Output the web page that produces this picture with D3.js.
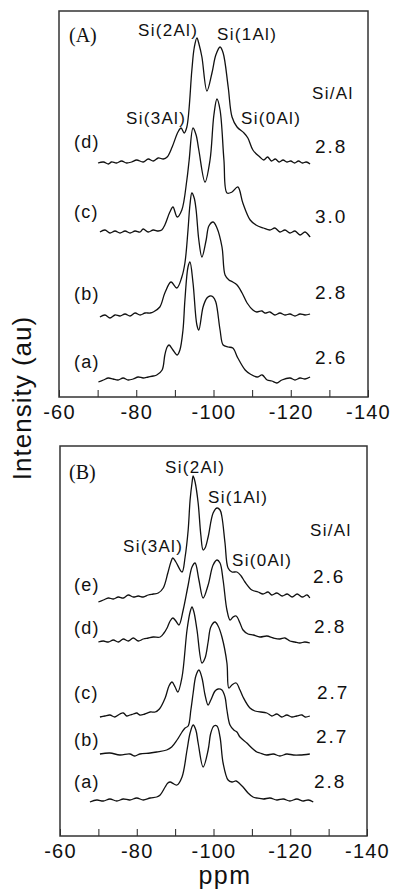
<!DOCTYPE html>
<html><head><meta charset="utf-8">
<script src="https://cdn.jsdelivr.net/npm/d3@7"></script>
<style>html,body{margin:0;padding:0;background:#fff;}svg{display:block;}</style>
</head><body>
<script>
// ---- data: [ppm, intensity (au)] for each 29Si MAS NMR spectrum ----
const specA_a = [[-70.2,-2],[-71.5,0],[-72.8,2],[-74.0,1],[-75.3,0],[-76.6,2],[-77.9,0],[-79.2,1],[-80.5,3],[-81.8,2],[-83.1,3],[-84.4,4],[-85.3,5],[-86.7,10],[-87.4,25],[-88.0,33],[-88.5,35],[-89.5,30],[-90.6,25],[-91.3,30],[-92.1,50],[-92.6,80],[-93.4,113],[-93.9,118],[-94.7,97],[-95.7,55],[-96.2,50],[-97.3,73],[-98.3,82],[-99.1,84],[-99.9,83],[-100.6,78],[-101.7,50],[-102.5,35],[-103.8,33],[-105.0,32],[-106.3,22],[-108.2,10],[-109.5,6],[-111.3,3],[-112.6,5],[-113.9,0],[-115.1,-1],[-116.4,-3],[-117.7,0],[-119.8,2],[-121.1,0],[-122.4,2],[-123.7,1],[-125.0,3]];
const specA_b = [[-70.6,-2],[-71.9,0],[-73.2,-3],[-74.5,0],[-75.8,-1],[-77.1,1],[-78.4,-1],[-79.7,2],[-81.0,0],[-82.3,2],[-83.6,2],[-84.4,3],[-86.1,8],[-87.4,22],[-89.0,33],[-90.5,27],[-91.8,38],[-92.6,52],[-93.4,85],[-93.9,110],[-94.4,122],[-95.0,117],[-95.5,105],[-96.2,75],[-97.0,58],[-98.1,75],[-98.8,89],[-99.9,93],[-100.9,87],[-102.2,68],[-103.0,40],[-104.0,35],[-105.0,33],[-106.1,30],[-107.4,22],[-108.7,12],[-110.2,5],[-111.2,3],[-112.5,4],[-113.3,2],[-114.6,3],[-115.9,0],[-117.2,2],[-118.5,0],[-119.8,1],[-121.1,-1],[-122.4,1],[-123.7,0],[-125.0,1]];
const specA_c = [[-70.6,1],[-71.9,3],[-73.2,0],[-74.5,2],[-75.8,0],[-77.1,2],[-78.4,0],[-79.7,2],[-81.0,1],[-81.8,4],[-83.1,1],[-84.4,3],[-85.7,2],[-86.6,3],[-87.4,8],[-88.7,21],[-89.5,26],[-90.6,16],[-91.8,23],[-93.1,53],[-93.7,73],[-94.7,105],[-95.5,98],[-96.2,83],[-97.8,51],[-99.1,73],[-100.1,118],[-100.9,134],[-101.7,123],[-102.7,73],[-103.5,40],[-104.8,41],[-106.3,46],[-107.6,30],[-109.5,13],[-111.0,8],[-112.9,5],[-114.6,3],[-115.9,5],[-117.2,1],[-118.5,3],[-119.8,0],[-121.1,2],[-122.4,-2],[-123.7,1],[-125.0,-4]];
const specA_d = [[-70.1,0],[-71.5,1],[-72.8,-1],[-73.6,1],[-74.9,0],[-76.2,2],[-77.5,0],[-78.8,1],[-80.1,3],[-81.8,1],[-83.1,4],[-84.4,2],[-85.7,5],[-87.0,4],[-88.0,6],[-89.3,16],[-90.8,31],[-91.6,35],[-92.4,30],[-93.1,36],[-94.4,93],[-95.0,115],[-95.7,125],[-96.3,118],[-97.0,106],[-98.3,72],[-99.6,90],[-100.6,108],[-101.7,116],[-102.5,110],[-103.8,76],[-104.8,46],[-106.1,36],[-107.9,30],[-108.9,25],[-110.2,13],[-112.0,6],[-113.0,3],[-114.0,6],[-115.0,2],[-116.0,4],[-117.0,1],[-118.0,3],[-119.0,1],[-120.0,2],[-121.0,0],[-122.0,2],[-123.0,0],[-124.0,1],[-125.0,-1]];

const specB_a = [[-67.8,-2],[-69.6,0],[-71.3,-1],[-73.0,1],[-74.8,-1],[-76.5,1],[-78.2,0],[-80.0,2],[-81.7,0],[-83.5,2],[-85.2,3],[-86.1,5],[-87.4,13],[-88.1,17],[-88.7,18],[-89.7,16],[-90.5,15],[-91.8,23],[-93.1,50],[-93.9,67],[-94.7,75],[-95.4,70],[-96.0,57],[-97.3,33],[-98.6,50],[-99.3,67],[-100.1,74],[-100.9,74],[-101.7,63],[-102.5,37],[-103.8,20],[-104.8,18],[-105.9,19],[-106.9,16],[-107.7,13],[-109.0,7],[-110.3,3],[-111.3,2],[-113.0,1],[-114.7,2],[-116.5,0],[-118.2,1],[-119.9,-1],[-121.7,1],[-123.4,-1],[-124.7,0],[-126.0,-2]];
const specB_b = [[-70.4,-1],[-73.0,0],[-75.6,-2],[-78.2,-1],[-79.5,-3],[-80.8,-1],[-83.5,0],[-85.2,1],[-87.8,3],[-89.1,6],[-90.5,13],[-91.8,21],[-92.6,25],[-93.4,27],[-94.1,43],[-94.7,60],[-95.4,77],[-96.2,83],[-97.0,75],[-97.8,58],[-98.6,48],[-99.3,53],[-100.4,62],[-101.2,64],[-102.2,63],[-103.0,56],[-103.5,43],[-104.3,28],[-105.3,23],[-106.1,21],[-106.9,16],[-108.7,10],[-110.0,5],[-111.3,1],[-112.1,0],[-113.8,-2],[-115.6,-1],[-117.3,-3],[-119.1,-1],[-120.8,-2],[-122.5,-2],[-125.1,-1]];
const specB_c = [[-70.4,-1],[-71.7,0],[-73.0,1],[-74.3,-1],[-75.6,2],[-76.5,3],[-77.4,0],[-78.2,1],[-79.1,2],[-80.0,3],[-80.8,1],[-82.1,2],[-83.5,4],[-84.8,4],[-85.9,7],[-87.4,18],[-88.4,30],[-89.2,34],[-90.0,29],[-90.7,24],[-91.8,39],[-93.1,86],[-93.9,104],[-94.4,109],[-94.9,104],[-95.7,86],[-97.0,53],[-97.8,58],[-98.6,74],[-99.3,89],[-100.4,94],[-101.2,90],[-102.2,79],[-103.5,53],[-104.0,28],[-104.8,31],[-105.9,33],[-106.9,26],[-107.7,19],[-109.5,8],[-110.8,5],[-113.9,3],[-115.2,0],[-116.5,2],[-117.8,-1],[-119.1,1],[-120.4,-1],[-121.7,0],[-123.0,1],[-123.9,-1],[-125.1,0]];
const specB_d = [[-70.0,-2],[-71.3,-1],[-72.6,-2],[-73.9,0],[-75.2,-2],[-76.5,1],[-77.8,-1],[-79.1,2],[-80.4,-1],[-81.7,1],[-83.0,2],[-84.3,3],[-86.1,3],[-87.1,7],[-87.9,12],[-88.7,19],[-89.4,22],[-90.2,19],[-91.0,15],[-92.1,30],[-93.4,55],[-94.4,73],[-95.2,77],[-96.2,60],[-97.3,42],[-98.6,55],[-99.9,75],[-100.9,80],[-101.7,77],[-102.5,60],[-103.5,30],[-104.3,20],[-105.1,23],[-105.9,24],[-106.9,17],[-107.7,10],[-109.0,6],[-110.4,5],[-112.1,3],[-113.9,4],[-115.6,2],[-117.3,1],[-118.6,2],[-119.9,-1],[-121.2,-2],[-122.5,-3],[-123.8,-2],[-125.1,-3]];
const specB_e = [[-70.0,-4],[-71.3,-2],[-72.6,0],[-73.9,-1],[-75.2,1],[-76.5,0],[-77.8,3],[-79.1,1],[-80.4,2],[-81.7,1],[-83.0,3],[-84.3,4],[-85.6,5],[-86.9,10],[-88.1,25],[-88.9,36],[-89.4,40],[-90.2,36],[-91.8,26],[-92.6,41],[-93.4,68],[-93.9,98],[-94.4,115],[-94.7,122],[-95.2,116],[-96.0,95],[-96.7,63],[-97.3,48],[-97.8,50],[-98.6,61],[-99.9,85],[-100.9,90],[-101.7,88],[-102.2,81],[-103.0,55],[-103.8,30],[-104.8,26],[-106.1,26],[-107.2,22],[-108.2,16],[-110.0,8],[-111.6,6],[-112.9,4],[-114.2,6],[-115.2,3],[-116.5,5],[-117.9,2],[-119.2,4],[-120.5,1],[-121.8,4],[-123.1,1],[-124.4,3],[-125.1,0]];

const seriesA = [specA_a, specA_b, specA_c, specA_d];
const seriesB = [specB_a, specB_b, specB_c, specB_d, specB_e];
const offsetsA = [17, 82, 164, 234];
const offsetsB = [36, 83, 120, 196, 238];
const namesA = ["(a)", "(b)", "(c)", "(d)"];
const namesB = ["(a)", "(b)", "(c)", "(d)", "(e)"];
const ratiosA = ["2.6", "2.8", "3.0", "2.8"];
const ratiosB = ["2.8", "2.7", "2.7", "2.8", "2.6"];
const xTicks = [-60, -70, -80, -90, -100, -110, -120, -130, -140];
const peakNames = ["Si(3Al)", "Si(2Al)", "Si(1Al)", "Si(0Al)"];

const W = 395, H = 890;
const svg = d3.select("body").append("svg").attr("width", W).attr("height", H);
const sans = "'Liberation Sans', Arial, Helvetica, sans-serif";
const serif = "'Liberation Serif', 'Times New Roman', serif";

function panel(cfg) {
  const x = d3.scaleLinear().domain([-60, -140]).range([cfg.left, cfg.right]);
  const y = d3.scaleLinear().domain([0, cfg.bottom - cfg.top]).range([cfg.bottom, cfg.top]);
  const g = svg.append("g");
  // axis with inward ticks
  const axis = d3.axisBottom(x).tickValues(xTicks).tickSize(-7).tickPadding(0)
    .tickFormat(d => (d % 20 === 0 ? String(d) : ""));
  const ax = g.append("g").attr("transform", `translate(0,${cfg.bottom})`).call(axis);
  ax.select(".domain").remove();
  ax.selectAll(".tick line").attr("stroke", "#222").attr("stroke-width", 1);
  ax.selectAll(".tick text").attr("y", 22).attr("dy", null)
    .attr("font-family", sans).attr("font-size", 20).attr("letter-spacing", 1.2)
    .attr("fill", "#111");
  // frame
  g.append("rect").attr("x", cfg.left).attr("y", cfg.top)
    .attr("width", cfg.right - cfg.left).attr("height", cfg.bottom - cfg.top)
    .attr("fill", "none").attr("stroke", "#333").attr("stroke-width", 1.5);
  const line = d3.line().x(d => x(d[0])).y(d => y(d[1])).curve(d3.curveCatmullRom.alpha(0.5));
  cfg.series.forEach((s, i) => {
    const off = cfg.offsets[i];
    g.append("path").datum(s.map(p => [p[0], p[1] + off]))
      .attr("d", line).attr("fill", "none").attr("stroke", "#111").attr("stroke-width", 1.3);
  });
  return { x, y, g };
}

const A = panel({ left: 59, right: 368, top: 11, bottom: 397, series: seriesA, offsets: offsetsA });
const B = panel({ left: 60, right: 367, top: 446, bottom: 836, series: seriesB, offsets: offsetsB });

function txt(x, y, s, opt = {}) {
  svg.append("text").attr("x", x).attr("y", y).text(s)
    .attr("font-family", opt.family || sans).attr("font-size", opt.size || 17)
    .attr("letter-spacing", opt.ls == null ? 1 : opt.ls)
    .attr("text-anchor", opt.anchor || "start").attr("fill", "#111");
}

// Panel A annotations
txt(69, 42, "(A)", { family: serif, size: 20, ls: 0 });
txt(138, 36, peakNames[1], { size: 17, ls: 1.3 });
txt(217, 40, peakNames[2], { size: 17, ls: 1.3 });
txt(126, 124, peakNames[0], { size: 17, ls: 1.3 });
txt(241, 124, peakNames[3], { size: 17, ls: 1.3 });
txt(312, 99, "Si/Al", { size: 17, ls: 1.3 });
const labYA = [368, 300, 218, 148];
const ratYA = [364, 299, 223, 153];
namesA.forEach((n, i) => txt(74, labYA[i], n, { size: 18, ls: 1.3 }));
ratiosA.forEach((r, i) => txt(315, ratYA[i], r, { size: 19, ls: 2 }));

// Panel B annotations
txt(69, 479, "(B)", { family: serif, size: 20, ls: 0 });
txt(165, 473, peakNames[1], { size: 17, ls: 1.3 });
txt(208, 503, peakNames[2], { size: 17, ls: 1.3 });
txt(123, 552, peakNames[0], { size: 17, ls: 1.3 });
txt(232, 566, peakNames[3], { size: 17, ls: 1.3 });
txt(310, 536, "Si/Al", { size: 17, ls: 1.3 });
const labYB = [788, 746, 699, 634, 591];
const ratYB = [788, 743, 699, 633, 583];
const ratXB = [314, 316, 317, 314, 313];
namesB.forEach((n, i) => txt(74, labYB[i], n, { size: 18, ls: 1.3 }));
ratiosB.forEach((r, i) => txt(ratXB[i], ratYB[i], r, { size: 19, ls: 2 }));

// axis titles
svg.append("text").attr("transform", "translate(31,398) rotate(-90)")
  .attr("text-anchor", "middle").attr("font-family", sans).attr("font-size", 26)
  .attr("letter-spacing", 1).attr("fill", "#111").text("Intensity (au)");
txt(225, 884, "ppm", { size: 25, ls: 1.5, anchor: "middle" });
</script>
</body></html>
